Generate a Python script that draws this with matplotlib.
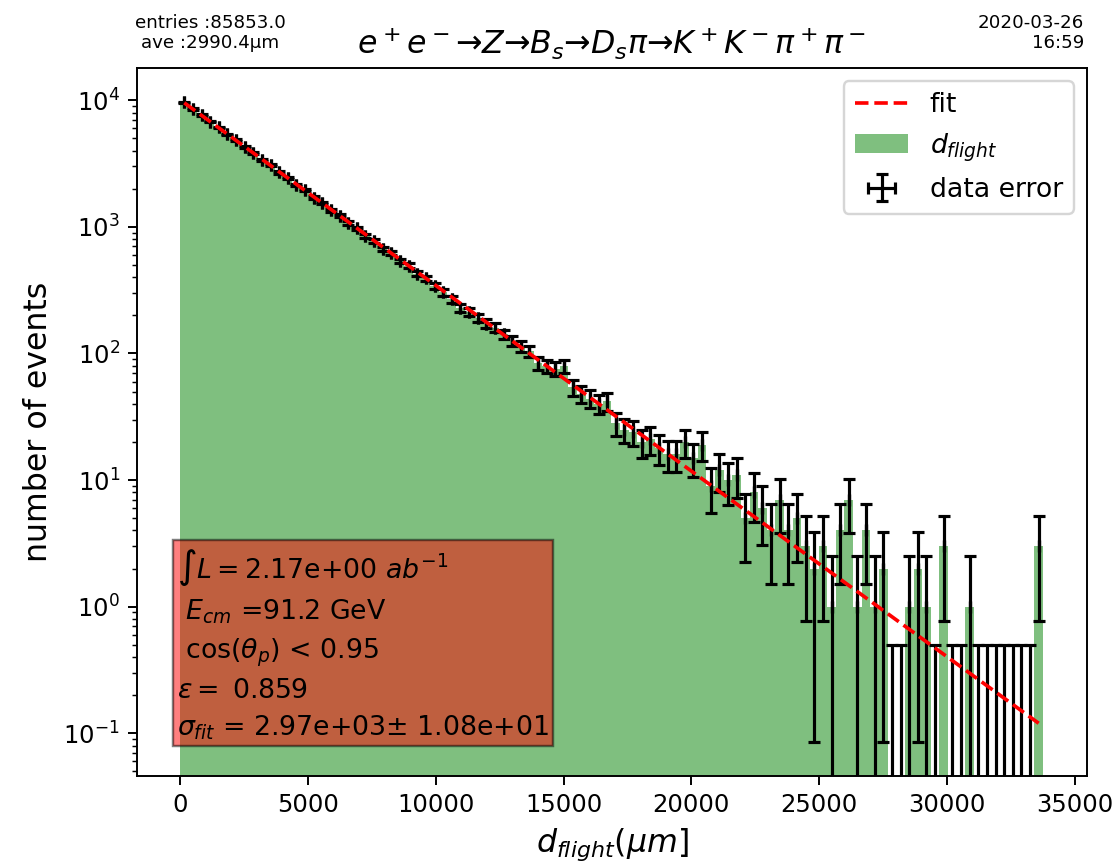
import numpy as np
import matplotlib.pyplot as plt

# histogram of flight distance (100 bins, 0 - 33750 um)
bin_lo, bin_hi, n_bins = 0.0, 33750.0, 100
counts = [9650, 8540, 7660, 6780, 6100, 5380, 4850, 4270, 3860, 3390,
          3070, 2690, 2450, 2140, 1950, 1700, 1545, 1350, 1230, 1070,
          975, 850, 780, 672, 620, 538, 495, 428, 392, 340,
          305, 268, 230, 214, 191, 172, 160, 142, 126, 114,
          104, 84, 80, 76, 79, 54, 48, 44, 40, 42,
          28, 25, 24, 20, 21, 18, 16, 16, 20, 15,
          19, 9, 12, 10, 11, 5, 8, 6, 4, 7,
          4, 5, 3, 2, 3, 1, 4, 7, 1, 4,
          1, 2, 0, 0, 1, 2, 1, 0, 3, 0,
          0, 1, 0, 0, 0, 0, 0, 0, 0, 3]

# exponential fit drawn between its two end points (straight on log axis)
fit_x = [168.75, 33581.25]
fit_y = [9550, 0.12]

header_left = "entries :85853.0\nave :2990.4\u00b5m"
header_right = "2020-03-26\n16:59"
title = "$e^+e^-\u2192Z\u2192B_s\u2192D_s\\pi\u2192K^+K^-\\pi^+\\pi^-$"
info = (r"$\int L = $2.17e+00 $ab^{-1}$" + "\n"
        r" $E_{cm}$ =91.2 GeV" + "\n"
        r" $\cos(\theta_p)$ < 0.95" + "\n"
        r"$\varepsilon = $ 0.859" + "\n"
        r"$\sigma_{fit}$ = 2.97e+03$\pm$ 1.08e+01")

edges = np.linspace(bin_lo, bin_hi, n_bins + 1)
centers = 0.5 * (edges[:-1] + edges[1:])
counts = np.array(counts, dtype=float)
yerr = np.sqrt(counts) + 0.5

fig = plt.figure(figsize=(6.4, 4.96), dpi=175)
ax = fig.add_axes([0.1223, 0.106, 0.8482, 0.8157])

h_hist = ax.hist(centers, bins=edges, weights=counts, color="green", alpha=0.5,
                 label=r"$d_{flight}$")[2]
h_err = ax.errorbar(centers, counts, yerr=yerr, xerr=np.zeros_like(counts), fmt="none",
                    ecolor="black", elinewidth=1.3, capsize=2.5, capthick=1.3,
                    label="data error")
h_fit, = ax.plot(fit_x, fit_y, "r--", label="fit")

ax.set_yscale("log")
ax.set_xlim(-1680, 35470)
ax.set_ylim(0.046, 1.8e4)
ax.set_xticks(np.arange(0, 35001, 5000))

ax.set_xlabel(r"$d_{flight}(\mu m]$", fontsize=13)
ax.set_ylabel("number of events", fontsize=13)
ax.set_title(title, fontsize=13)
ax.legend([h_fit, h_hist, h_err], ["fit", r"$d_{flight}$", "data error"],
          loc="upper right", fontsize=11)

ax.text(0.042, 0.048, info, transform=ax.transAxes, fontsize=11,
        va="bottom", ha="left", linespacing=1.45,
        bbox=dict(boxstyle="square,pad=0.15", facecolor="red", alpha=0.5))

fig.text(0.1875, 0.962, header_left, fontsize=7.5, ha="center", va="center")
fig.text(0.968, 0.962, header_right, fontsize=7.5, ha="right", va="center",
         multialignment="right")

fig.savefig("out.png", dpi=175)
